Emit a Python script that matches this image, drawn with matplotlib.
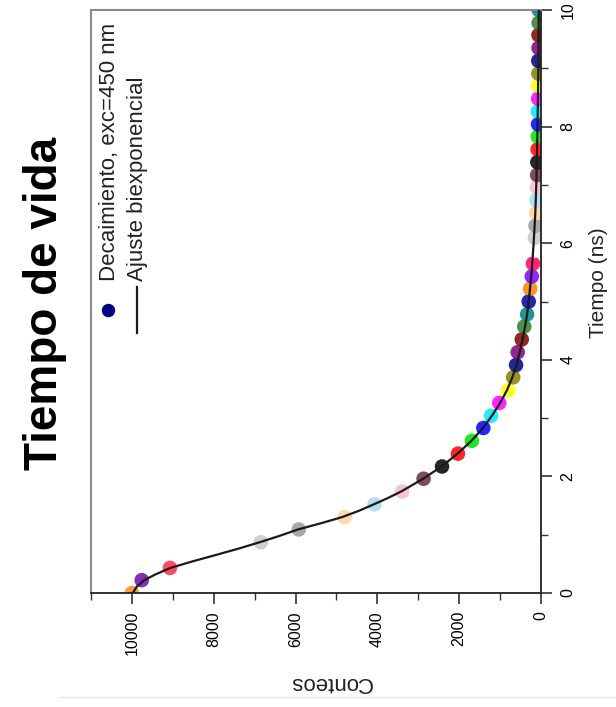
import numpy as np
import matplotlib
matplotlib.use("Agg")
import matplotlib.pyplot as plt
from matplotlib.ticker import MultipleLocator
from matplotlib.lines import Line2D

plt.rcParams['font.family'] = ['Liberation Sans', 'DejaVu Sans']

# ---- data ----
tiempo = [0.00, 0.22, 0.43, 0.65, 0.87, 1.09, 1.30, 1.52, 1.74, 1.96,
          2.17, 2.39, 2.61, 2.83, 3.04, 3.26, 3.48, 3.70, 3.91, 4.13,
          4.35, 4.57, 4.78, 5.00, 5.22, 5.43, 5.65, 5.87, 6.09, 6.30,
          6.52, 6.74, 6.96, 7.17, 7.39, 7.61, 7.83, 8.04, 8.26, 8.48,
          8.70, 8.91, 9.13, 9.35, 9.57, 9.78, 10.00]
conteos = [10000, 9760, 9070, 7950, 6850, 5920, 4800, 4070, 3390, 2870,
           2420, 2030, 1690, 1410, 1220, 1020, 800, 680, 610, 570,
           470, 410, 340, 300, 265, 225, 195, 170, 150, 135,
           120, 110, 100, 95, 90, 82, 78, 72, 75, 68,
           70, 65, 66, 60, 62, 58, 55]
colores = ['#ff8c1a', '#6a0dad', '#ff2a4a', '#ffffff', '#c8c8c8', '#9a9a9a',
           '#ffd0a0', '#a8d8f0', '#f5b8d0', '#6b2c3c',
           '#000000', '#ff0000', '#00e000', '#0000ff', '#00e8ff', '#ff00ff',
           '#ffff00', '#808000', '#000080', '#800080', '#800000', '#2e7d2e',
           '#008080', '#0000a0', '#ff8000', '#8000ff', '#ff0060', '#ffffff',
           '#c8c8c8', '#9a9a9a', '#ffd0a0', '#a8d8f0', '#f5b8d0', '#6b2c3c',
           '#000000', '#ff0000', '#00e000', '#0000ff', '#00e8ff', '#ff00ff',
           '#ffff00', '#808000', '#000080', '#800080', '#800000', '#2e7d2e',
           '#008080']

ajuste_t = [0.00, 0.11, 0.22, 0.32, 0.43, 0.54, 0.65, 0.76, 0.87, 0.98,
            1.09, 1.20, 1.30, 1.41, 1.52, 1.63, 1.74, 1.96,
            2.17, 2.39, 2.61, 2.83, 3.04, 3.26, 3.48, 3.70, 3.91, 4.13,
            4.35, 4.57, 4.78, 5.00, 5.50, 6.00, 6.50, 7.00, 8.00, 9.00, 10.00]
ajuste_c = [9980, 9880, 9700, 9420, 9060, 8530, 7960, 7400, 6880, 6390,
            5940, 5360, 4870, 4450, 4090, 3740, 3420, 2880,
            2430, 2040, 1700, 1420, 1200, 1000, 830, 700, 600, 520,
            450, 390, 340, 300, 230, 180, 140, 115, 85, 65, 55]

titulo = "Tiempo de vida"
leyenda = ["Decaimiento, exc=450 nm", "Ajuste biexponencial"]

# ---- figure ----
W, H = 616, 707
fig = plt.figure(figsize=(W / 100, H / 100), dpi=100)
ax = fig.add_axes([91 / W, 1 - 593 / H, 450 / W, 583 / H])

ax.scatter(conteos, tiempo, s=110, c=colores, alpha=0.85, edgecolors='none', zorder=2)
ax.plot(ajuste_c, ajuste_t, color='#1a1a1a', lw=1.6, zorder=3)

ax.set_xlim(11000, 0)
ax.set_ylim(0, 10)

ax.xaxis.set_major_locator(MultipleLocator(2000))
ax.xaxis.set_minor_locator(MultipleLocator(1000))
ax.yaxis.set_major_locator(MultipleLocator(2))
ax.yaxis.set_minor_locator(MultipleLocator(1))
ax.yaxis.tick_right()
ax.yaxis.set_label_position('right')

ax.tick_params(axis='both', which='major', direction='out', length=8, width=1.2,
               labelsize=11.5, color='#333333')
ax.tick_params(axis='both', which='minor', direction='out', length=5, width=1.0,
               color='#333333')
ax.tick_params(axis='x', which='major', pad=5, labelrotation=90)
ax.tick_params(axis='y', which='major', pad=6, labelrotation=90)
for lab in ax.get_yticklabels():
    lab.set_va('center')
for lab in ax.get_xticklabels():
    lab.set_va('top')

for s in ['bottom', 'right']:
    ax.spines[s].set_color('#222222')
    ax.spines[s].set_linewidth(1.3)
for s in ['top', 'left']:
    ax.spines[s].set_color('#8a8a8a')
    ax.spines[s].set_linewidth(1.5)

ax.set_xlabel("Conteos", fontsize=16, rotation=180, color='#222222',
              ha='center', va='center')
ax.set_ylabel("Tiempo (ns)", fontsize=15, rotation=90, color='#222222',
              ha='center', va='center')
ax.xaxis.set_label_coords(0.533, -0.154)
ax.yaxis.set_label_coords(1.127, 0.532)

# legend drawn rotated
ax.scatter([0.038], [0.486], s=75, color='#000080', transform=ax.transAxes,
           clip_on=False, zorder=4)
ax.text(0.042, 0.535, leyenda[0], rotation=90, fontsize=16, ha='center',
        va='bottom', transform=ax.transAxes, color='#222222')
ax.plot([0.102, 0.102], [0.446, 0.525], color='#1a1a1a', lw=1.6,
        transform=ax.transAxes)
ax.text(0.104, 0.535, leyenda[1], rotation=90, fontsize=16, ha='center',
        va='bottom', transform=ax.transAxes, color='#222222')

fig.text(45 / W, 1 - 303 / H, titulo, rotation=90, fontsize=33, fontweight='bold',
         ha='center', va='center', color='#000000')

fig.add_artist(Line2D([60 / W, 1.0], [1 - 697 / H, 1 - 697 / H], color='#e6e6e6',
                      lw=1.0, transform=fig.transFigure))

fig.savefig("out.png", dpi=100)
